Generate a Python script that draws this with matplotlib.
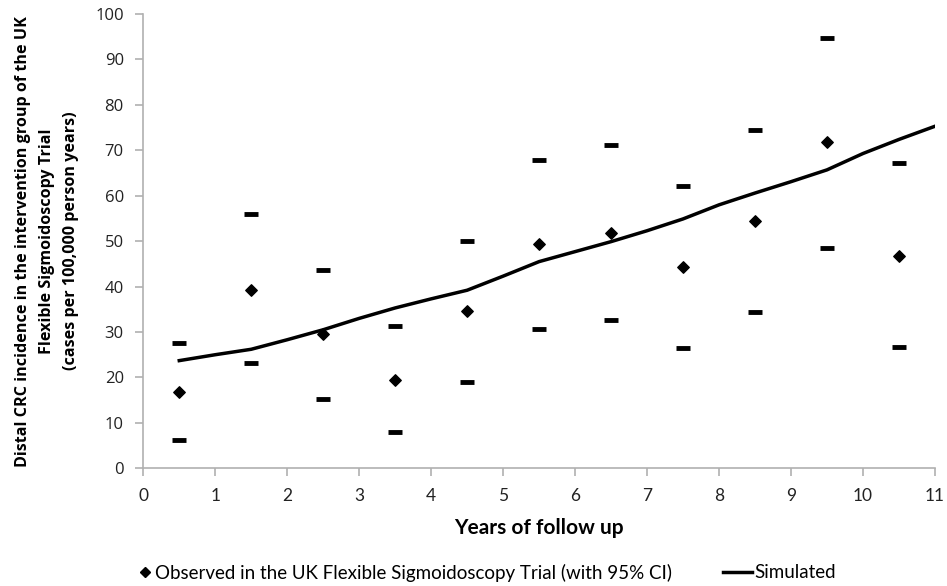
import matplotlib.pyplot as plt
from matplotlib.lines import Line2D

years = [0.5, 1.5, 2.5, 3.5, 4.5, 5.5, 6.5, 7.5, 8.5, 9.5, 10.5]
observed = [16.8, 39.3, 29.6, 19.5, 34.7, 49.4, 51.8, 44.3, 54.4, 71.8, 46.8]
ci_upper = [27.6, 55.9, 43.7, 31.4, 50.1, 67.9, 71.1, 62.2, 74.4, 94.8, 67.1]
ci_lower = [6.2, 23.1, 15.2, 8.0, 18.9, 30.7, 32.7, 26.4, 34.4, 48.4, 26.7]

sim_years = [0.5, 1, 1.5, 2, 2.5, 3, 3.5, 4, 4.5, 5, 5.5, 6, 6.5, 7, 7.5, 8, 8.5, 9, 9.5, 10, 10.5, 11]
simulated = [23.7, 25.0, 26.2, 28.3, 30.5, 33.0, 35.3, 37.3, 39.2, 42.3, 45.5, 47.7, 49.9, 52.3, 54.9, 58.0, 60.6, 63.1, 65.7, 69.3, 72.4, 75.3]

fig = plt.figure(figsize=(9.47, 5.86), dpi=100)
ax = fig.add_axes([0.1513, 0.2009, 0.8360, 0.7751])

ax.plot(sim_years, simulated, color='black', linewidth=2.5, zorder=2)
ax.scatter(years, observed, marker='D', s=34, color='black', zorder=3)
ax.scatter(years, ci_upper, marker='_', s=110, linewidths=3.5, color='black', zorder=3)
ax.scatter(years, ci_lower, marker='_', s=110, linewidths=3.5, color='black', zorder=3)

ax.set_xlim(0, 11)
ax.set_ylim(0, 100)
ax.set_xticks(range(0, 12))
ax.set_yticks(range(0, 101, 10))

for s in ['top', 'right']:
    ax.spines[s].set_visible(False)
for s in ['left', 'bottom']:
    ax.spines[s].set_color('#b0b0b0')
    ax.spines[s].set_linewidth(1.2)
ax.tick_params(axis='both', colors='#b0b0b0', length=6, width=1.2)
ax.tick_params(axis='y', labelcolor='#222222', labelsize=12, pad=8)
ax.tick_params(axis='x', labelcolor='#222222', labelsize=12.5, pad=8)
for lab in ax.get_yticklabels():
    lab.set_family('Open Sans')
for lab in ax.get_xticklabels():
    lab.set_family('Lato')

ax.set_xlabel('Years of follow up', fontsize=15, fontweight='bold', family='Lato', labelpad=10)
ax.set_ylabel('Distal CRC incidence in the intervention group of the UK\n'
              'Flexible Sigmoidoscopy Trial\n(cases per 100,000 person years)',
              fontsize=11.6, fontweight='bold', family='Open Sans', linespacing=1.65, labelpad=12)

# legend: two pieces so each handle gets its own length
leg_font = {'family': 'Lato', 'size': 13.5}
obs_handle = Line2D([], [], marker='D', linestyle='none', color='black', markersize=5)
sim_handle = Line2D([], [], color='black', linewidth=2.5)
leg1 = fig.legend([obs_handle], ['Observed in the UK Flexible Sigmoidoscopy Trial (with 95% CI)'],
                  loc='center left', bbox_to_anchor=(0.1473, 0.0222), frameon=False, prop=leg_font,
                  handlelength=0.6, handletextpad=0.24, borderpad=0, borderaxespad=0)
leg2 = fig.legend([sim_handle], ['Simulated'],
                  loc='center left', bbox_to_anchor=(0.7635, 0.0222), frameon=False, prop=leg_font,
                  handlelength=1.55, handletextpad=0.1, borderpad=0, borderaxespad=0)

fig.savefig('out.png', dpi=100)
